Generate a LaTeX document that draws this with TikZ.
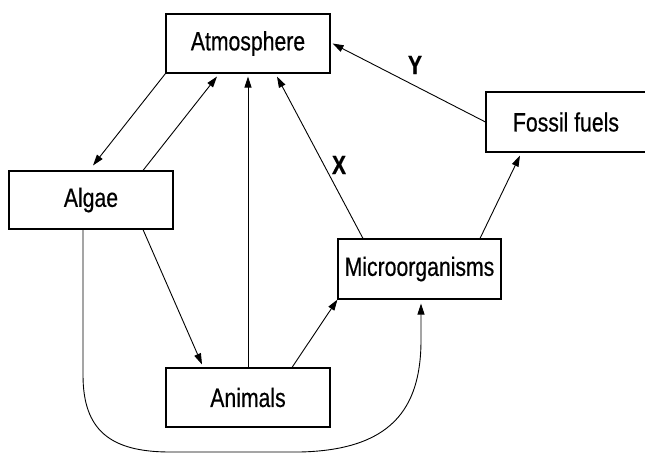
\documentclass[tikz,border=0pt]{standalone}
\usepackage{fontspec}
\setmainfont[FakeStretch=0.8,FakeBold=0.5]{Liberation Sans}
\usetikzlibrary{arrows.meta}
\begin{document}
\begin{tikzpicture}[x=1pt,y=-1pt,
  box/.style={draw,line width=1.1pt,minimum width=164pt,minimum height=59pt,inner sep=0pt,
    font=\fontsize{26.5}{31}\selectfont},
  conn/.style={line width=0.9pt,-{Triangle[length=11pt,width=7pt]}},
  lbl/.style={font=\fontsize{26.5}{31}\selectfont\bfseries,inner sep=0pt}]
\useasboundingbox (0,0) rectangle (645,453);
\node[box] (atm) at (248,43.5) {Atmosphere};
\node[box,minimum height=58pt] (alg) at (91,200) {Algae};
\node[box,minimum width=163pt,minimum height=60pt] (mic) at (419.5,269) {Microorganisms};
\node[box] (ani) at (248,397.5) {Animals};
\node[box,minimum width=160pt,minimum height=60pt] (fos) at (566,122) {Fossil fuels};
\node[lbl] (lx) at (339,165) {X};
\node[lbl] (ly) at (415,65) {Y};
% arrows
\draw[conn] (atm.south west) -- ([xshift=2pt,yshift=5pt]alg.north);
\draw[conn] ([xshift=52pt]alg.north) -- ([xshift=-31pt,yshift=-3pt]atm.south);
\draw[conn] (ani.north) -- ([yshift=-3pt]atm.south);
\draw[conn] ([xshift=-56.5pt]mic.north) -- ([xshift=29pt,yshift=-3pt]atm.south);
\draw[conn] (fos.west) -- ([xshift=2pt]atm.east);
\draw[conn] ([xshift=60.5pt]mic.north) -- ([xshift=-46pt,yshift=-3pt]fos.south);
\draw[conn] ([xshift=52pt]alg.south) -- ([xshift=-46pt,yshift=3pt]ani.north);
\draw[conn] ([xshift=44pt]ani.north) -- (mic.south west);
\draw[conn] ([xshift=-8pt]alg.south) -- (83,375)
  .. controls (83,430) and (110,452) .. (170,452) -- (300,452)
  .. controls (390,450) and (421,410) .. (421,340)
  -- ([xshift=1.5pt,yshift=-4pt]mic.south);
\end{tikzpicture}
\end{document}
